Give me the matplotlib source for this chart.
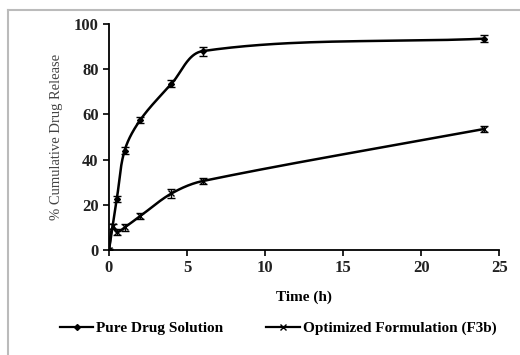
import numpy as np
import matplotlib
matplotlib.use("Agg")
import matplotlib.pyplot as plt
from matplotlib.lines import Line2D

time_pure = [0, 0.5, 1, 2, 4, 6, 24]
release_pure = [0, 22.5, 44, 57.5, 73.5, 88, 93.5]
err_pure = [0.5, 1.2, 1.5, 1.5, 1.5, 2.0, 1.5]

time_opt = [0, 0.25, 0.5, 1, 2, 4, 6, 24]
release_opt = [0, 10.5, 8, 10, 15, 25, 30.5, 53.5]
err_opt = [0.5, 1.2, 1.5, 1.5, 1.5, 2.0, 1.5, 1.5]

x_ticks = [0, 5, 10, 15, 20, 25]
y_ticks = [0, 20, 40, 60, 80, 100]


def smooth(x, y, sx, sy, n=40, s=1/3):
    # chord-length weighted Bezier smoothing computed in screen space
    P = np.column_stack([np.asarray(x, float) * sx, np.asarray(y, float) * sy])
    npt = len(P)
    T = np.zeros_like(P)
    for i in range(npt):
        a = P[max(i - 1, 0)]
        b = P[min(i + 1, npt - 1)]
        v = b - a
        T[i] = v / np.linalg.norm(v)
    t = np.linspace(0, 1, n)[:, None]
    out = []
    for i in range(npt - 1):
        p1, p2 = P[i], P[i + 1]
        d = np.linalg.norm(p2 - p1)
        c1 = p1 + T[i] * d * s
        c2 = p2 - T[i + 1] * d * s
        seg = (1 - t) ** 3 * p1 + 3 * (1 - t) ** 2 * t * c1 + 3 * (1 - t) * t ** 2 * c2 + t ** 3 * p2
        out.append(seg)
    out = np.vstack(out)
    return out[:, 0] / sx, out[:, 1] / sy


plt.rcParams['font.family'] = ['Liberation Serif', 'DejaVu Serif']
fig = plt.figure(figsize=(5.2, 3.55), dpi=100)
ax = fig.add_axes([0.2096, 0.2958, 0.7504, 0.6366])
ax.set_xlim(0, 25)
ax.set_ylim(0, 100)
bbox = ax.get_window_extent()
kx = bbox.width / 25.0
ky = bbox.height / 100.0

cx, cy = smooth(time_pure, release_pure, kx, ky)
ax.plot(cx, cy, color='black', lw=1.8)
ax.errorbar(time_pure, release_pure, yerr=err_pure, fmt='D', color='black',
            ms=3, capsize=3, elinewidth=1, capthick=1)

cx, cy = smooth(time_opt, release_opt, kx, ky)
ax.plot(cx, cy, color='black', lw=1.8)
ax.errorbar(time_opt, release_opt, yerr=err_opt, fmt='x', color='black',
            ms=4, capsize=3, elinewidth=1, capthick=1, mew=1)

ax.set_xticks(x_ticks)
ax.set_yticks(y_ticks)
ax.spines['top'].set_visible(False)
ax.spines['right'].set_visible(False)
ax.spines['left'].set_linewidth(1.3)
ax.spines['bottom'].set_linewidth(1.3)
ax.tick_params(direction='out', length=4, width=1.2, labelsize=12)
for lab in ax.get_xticklabels() + ax.get_yticklabels():
    lab.set_fontweight('bold')
    lab.set_color('#222222')
ax.set_xlabel('Time (h)', fontsize=11, fontweight='bold', labelpad=10)
ax.set_ylabel('% Cumulative Drug Release', fontsize=10.5, color='#444444', labelpad=8)

handles = [Line2D([], [], color='black', lw=1.6, marker='D', ms=3),
           Line2D([], [], color='black', lw=1.6, marker='x', ms=4)]
fig.legend(handles, ['Pure Drug Solution', 'Optimized Formulation (F3b)'],
           loc='center', bbox_to_anchor=(0.535, 0.075), ncol=2, frameon=False,
           prop={'weight': 'bold', 'size': 11}, handlelength=2.2,
           handletextpad=0.2, columnspacing=2.8)

fig.add_artist(Line2D([8 / 520, 1], [1 - 10 / 355, 1 - 10 / 355], color='#bbbbbb', lw=1.5,
                      transform=fig.transFigure))
fig.add_artist(Line2D([8 / 520, 8 / 520], [0, 1 - 10 / 355], color='#bbbbbb', lw=1.5,
                      transform=fig.transFigure))

fig.savefig('out.png', dpi=100)
